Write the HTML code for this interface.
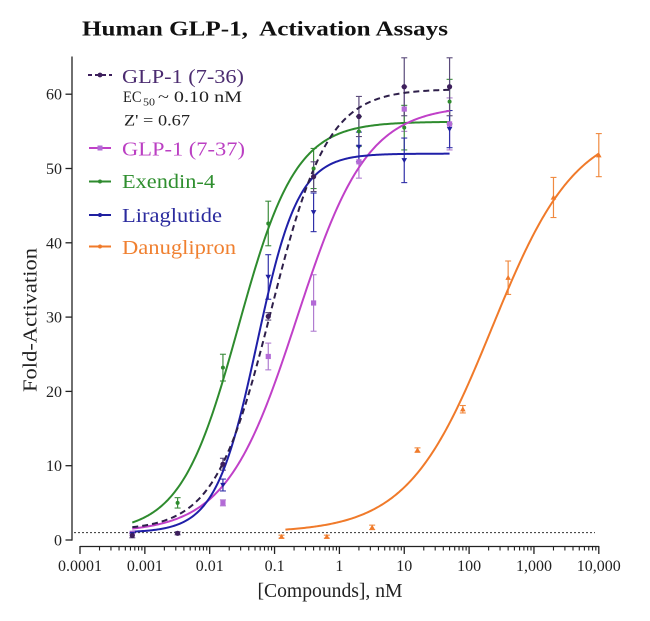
<!DOCTYPE html>
<html>
<head>
<meta charset="utf-8">
<style>
html,body{margin:0;padding:0;background:#fff;}
svg{display:block;}
text{font-family:"Liberation Serif","DejaVu Serif",serif;}
</style>
</head>
<body>
<svg id="chart" width="650" height="621" viewBox="0 0 650 621" xmlns="http://www.w3.org/2000/svg">
<rect width="650" height="621" fill="#fff"/>
<!-- Title -->
<text x="82" y="35.5" font-size="21.5" font-weight="bold" fill="#111" textLength="366" lengthAdjust="spacingAndGlyphs">Human GLP-1,&#160; Activation Assays</text>

<!-- Axes -->
<g id="axes" stroke="#222" stroke-width="1.3" fill="none">
  <line x1="72" y1="56.5" x2="72" y2="540.6"/>
  <line x1="80" y1="546.5" x2="599" y2="546.5"/>
</g>
<g id="yticks"></g>
<g id="xticks"></g>

<!-- y tick labels -->
<g font-size="16" fill="#222" text-anchor="end">
  <text x="62" y="545.5">0</text>
  <text x="62" y="471.2">10</text>
  <text x="62" y="396.9">20</text>
  <text x="62" y="322.6">30</text>
  <text x="62" y="248.3">40</text>
  <text x="62" y="174">50</text>
  <text x="62" y="99.7">60</text>
</g>
<!-- x tick labels -->
<g font-size="16" fill="#222" text-anchor="middle">
  <text x="80" y="571">0.0001</text>
  <text x="144.9" y="571">0.001</text>
  <text x="209.7" y="571">0.01</text>
  <text x="274.6" y="571">0.1</text>
  <text x="339.4" y="571">1</text>
  <text x="404.3" y="571">10</text>
  <text x="469.1" y="571">100</text>
  <text x="534" y="571">1,000</text>
  <text x="598.8" y="571">10,000</text>
</g>

<!-- axis titles -->
<text x="330" y="597" font-size="20" fill="#222" text-anchor="middle" textLength="145" lengthAdjust="spacingAndGlyphs">[Compounds], nM</text>
<text transform="translate(36.5,320) rotate(-90)" x="0" y="0" font-size="20" fill="#222" text-anchor="middle" textLength="144" lengthAdjust="spacingAndGlyphs">Fold-Activation</text>

<!-- baseline dotted -->
<line x1="74" y1="532.6" x2="595" y2="532.6" stroke="#333" stroke-width="1" stroke-dasharray="2,2"/>

<g id="series"></g>

<!-- Legend -->
<g id="legend">
  <line x1="88" y1="75" x2="112" y2="75" stroke="#3d1f5c" stroke-width="2" stroke-dasharray="4,3"/>
  <circle cx="100" cy="75" r="2.4" fill="#3d1f5c"/>
  <text x="122" y="83" font-size="20" fill="#4b2b70" textLength="122" lengthAdjust="spacingAndGlyphs">GLP-1 (7-36)</text>
  <text x="123" y="102" font-size="16" fill="#222" textLength="18.5" lengthAdjust="spacingAndGlyphs">EC</text>
  <text x="143" y="105.5" font-size="11" fill="#222" textLength="12" lengthAdjust="spacingAndGlyphs">50</text>
  <text x="158" y="102" font-size="16" fill="#222" textLength="84" lengthAdjust="spacingAndGlyphs">~ 0.10 nM</text>
  <text x="124" y="125.5" font-size="16" fill="#222" textLength="66" lengthAdjust="spacingAndGlyphs">Z' = 0.67</text>

  <line x1="89" y1="148" x2="111" y2="148" stroke="#c040c8" stroke-width="2"/>
  <rect x="97.5" y="145.5" width="5" height="5" fill="#b36ad6"/>
  <text x="122" y="155.5" font-size="20" fill="#bb3fc3" textLength="123" lengthAdjust="spacingAndGlyphs">GLP-1 (7-37)</text>

  <line x1="89" y1="181.5" x2="111" y2="181.5" stroke="#2e8b2e" stroke-width="2"/>
  <circle cx="100" cy="181.5" r="2" fill="#2e8b2e"/>
  <text x="122" y="188" font-size="20" fill="#2f8f2f" textLength="93" lengthAdjust="spacingAndGlyphs">Exendin-4</text>

  <line x1="89" y1="215" x2="111" y2="215" stroke="#2020a0" stroke-width="2"/>
  <circle cx="100" cy="215" r="2" fill="#2020a0"/>
  <text x="122" y="222" font-size="20" fill="#2b2b9e" textLength="100" lengthAdjust="spacingAndGlyphs">Liraglutide</text>

  <line x1="89" y1="246.5" x2="111" y2="246.5" stroke="#f07a2a" stroke-width="2"/>
  <circle cx="100" cy="246.5" r="2" fill="#f07a2a"/>
  <text x="122" y="254" font-size="20" fill="#f08030" textLength="114" lengthAdjust="spacingAndGlyphs">Danuglipron</text>
</g>

<script>
(function(){
  var NS="http://www.w3.org/2000/svg";
  function X(v){return 80+64.85*(Math.log10(v)+4);}
  function Y(v){return 540-7.43*v;}
  function el(tag,attrs,parent){var e=document.createElementNS(NS,tag);for(var k in attrs)e.setAttribute(k,attrs[k]);parent.appendChild(e);return e;}
  // y ticks
  var yt=document.getElementById("yticks");
  for(var i=0;i<=60;i+=10){el("line",{x1:65.5,y1:Y(i),x2:72,y2:Y(i),stroke:"#222","stroke-width":1.3},yt);}
  // x ticks
  var xt=document.getElementById("xticks");
  for(var d=-4;d<=4;d++){
    var base=Math.pow(10,d);
    el("line",{x1:X(base),y1:546,x2:X(base),y2:554,stroke:"#222","stroke-width":1.3},xt);
    if(d<4){for(var m=2;m<=9;m++){var xv=X(base*m);el("line",{x1:xv,y1:546,x2:xv,y2:550.5,stroke:"#222","stroke-width":1.1},xt);}}
  }
  var g=document.getElementById("series");
  function curve(b,t,lec,h,x0,x1){
    var l0=Math.log10(x0),l1=Math.log10(x1),p=[];
    for(var i=0;i<=240;i++){var l=l0+(l1-l0)*i/240;var v=b+(t-b)/(1+Math.pow(10,(lec-l)*h));p.push(X(Math.pow(10,l)).toFixed(2)+","+Y(v).toFixed(2));}
    return "M"+p.join("L");
  }
  function ebars(data,color){
    data.forEach(function(d){
      if(d[2]<=0.15)return;
      var x=X(d[0]),y1=Y(d[1]+d[2]),y2=Y(d[1]-d[2]);
      el("line",{x1:x,y1:y1,x2:x,y2:y2,stroke:color,"stroke-width":1.2},g);
      el("line",{x1:x-3,y1:y1,x2:x+3,y2:y1,stroke:color,"stroke-width":1.1},g);
      el("line",{x1:x-3,y1:y2,x2:x+3,y2:y2,stroke:color,"stroke-width":1.1},g);
    });
  }
  function markers(data,shape,color){
    data.forEach(function(d){
      var x=X(d[0]),y=Y(d[1]);
      if(shape=="circle")el("circle",{cx:x,cy:y,r:2.6,fill:color},g);
      else if(shape=="dot")el("circle",{cx:x,cy:y,r:2,fill:color},g);
      else if(shape=="square")el("rect",{x:x-2.6,y:y-2.6,width:5.2,height:5.2,fill:color},g);
      else if(shape=="down")el("polygon",{points:(x-2.8)+","+(y-2.2)+" "+(x+2.8)+","+(y-2.2)+" "+x+","+(y+2.8),fill:color},g);
      else if(shape=="up")el("polygon",{points:(x-2.8)+","+(y+2.2)+" "+(x+2.8)+","+(y+2.2)+" "+x+","+(y-2.8),fill:color},g);
    });
  }
  var d736=[[0.00064,0.6,0.3],[0.0032,0.9,0.2],[0.016,10.2,0.8],[0.08,30.1,0.5],[0.4,48.9,2],[2,57,2.7],[10,61,3.9],[50,61,3.9]];
  var d737=[[0.00064,0.9,0],[0.016,5.0,0.4],[0.08,24.7,1.8],[0.4,31.9,3.8],[2,50.9,2.2],[10,58,3],[50,56,3.5]];
  var dex=[[0.0032,5.0,0.7],[0.016,23.2,1.8],[0.08,42.6,3.0],[0.4,50.0,2.7],[2,55,2],[10,55.5,3],[50,59,3]];
  var dli=[[0.00064,0.8,0],[0.016,7.4,0.8],[0.08,35.4,3],[0.4,44.1,2.6],[2,52.9,2],[10,51.1,3],[50,55.3,2.5]];
  var ddn=[[0.128,0.45,0.2],[0.64,0.45,0.2],[3.2,1.7,0.3],[16,12.1,0.3],[80,17.6,0.5],[400,35.3,2.25],[2000,46.1,2.7],[10000,51.8,2.9]];

  ebars(d737,"#b07cd0");
  ebars(dex,"#3c8c3c");
  ebars(dli,"#3030a8");
  ebars(d736,"#5a4a7a");
  ebars(ddn,"#f08a40");

  el("path",{d:curve(1,56.3,-1.56,0.98,0.00064,50),stroke:"#2e8b2e","stroke-width":2,fill:"none"},g);
  el("path",{d:curve(1,58.5,-0.66,0.8,0.00064,50),stroke:"#c040c8","stroke-width":2,fill:"none"},g);
  el("path",{d:curve(1,52,-1.27,1.36,0.00064,50),stroke:"#1f1fa8","stroke-width":2,fill:"none"},g);
  el("path",{d:curve(1.3,60.7,-1.05,1.0,0.00064,50),stroke:"#2e1f4a","stroke-width":2,fill:"none","stroke-dasharray":"6,4"},g);
  el("path",{d:curve(1,56,2.35,0.67,0.147,10000),stroke:"#f07a2a","stroke-width":2,fill:"none"},g);

  markers(d737,"square","#b36ad6");
  markers(dex,"dot","#2e8b2e");
  markers(dli,"down","#2020a0");
  markers(d736,"circle","#3d1f5c");
  markers(ddn,"up","#f07a2a");
})();
</script>
</svg>
</body>
</html>
